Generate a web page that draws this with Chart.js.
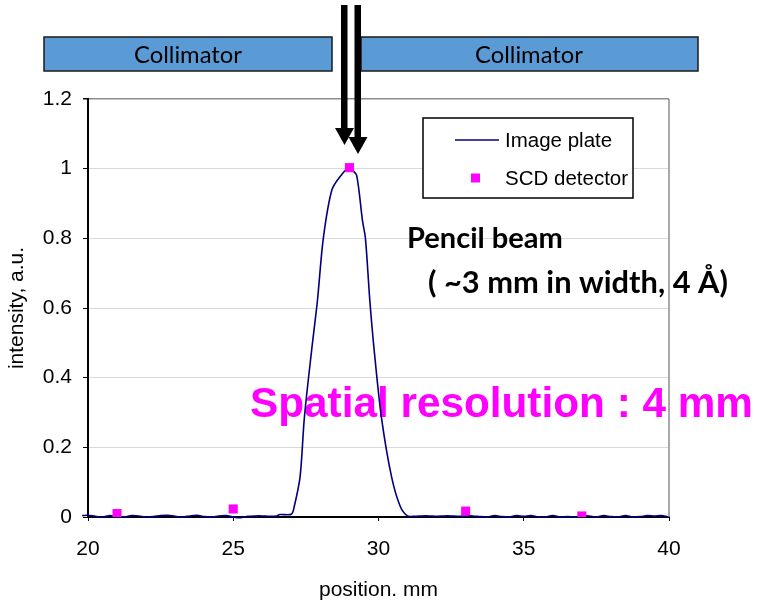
<!DOCTYPE html>
<html>
<head>
<meta charset="utf-8">
<script src="https://cdn.jsdelivr.net/npm/chart.js@4"></script>
<style>
  body { margin: 0; background: #fff; }
  #wrap { width: 757px; height: 603px; }
</style>
</head>
<body>
<div id="wrap"><canvas id="chart"></canvas></div>
<script>
// image plate profile
const plateX = [19.8, 20.0, 20.25, 20.5, 20.75, 21.0, 21.25, 21.5, 21.75, 22.0, 22.25, 22.5, 22.75,
  23.0, 23.25, 23.5, 23.75, 24.0, 24.25, 24.5, 24.75, 25.0, 25.25, 25.5, 25.75, 26.0, 26.25, 26.5,
  26.6, 27.0, 27.1, 27.3, 27.45, 27.7, 27.9, 28.1, 28.4, 28.75, 28.95, 29.1, 29.25, 29.45, 29.55,
  29.7, 29.85, 30.1, 30.45, 30.75, 31.0, 31.25, 31.5, 31.75, 32.0, 32.25, 32.5, 32.75, 33.0, 33.25,
  33.5, 33.75, 34.0, 34.25, 34.5, 34.75, 35.0, 35.25, 35.5, 35.75, 36.0, 36.25, 36.5, 36.75, 37.0,
  37.25, 37.5, 37.75, 38.0, 38.25, 38.5, 38.75, 39.0, 39.25, 39.5, 39.75, 40.0, 40.3];
const plateY = [0.004, 0.005, 0.002, 0.0, 0.004, 0.001, 0.0, 0.004, 0.003, 0.0, 0.001, 0.004, 0.005,
  0.002, 0.0, 0.003, 0.005, 0.001, 0.0, 0.003, 0.004, 0.0, -0.002, 0.002, 0.003, 0.003, 0.002, 0.003,
  0.007, 0.008, 0.03, 0.115, 0.287, 0.48, 0.623, 0.80, 0.94, 0.985, 1.0, 0.995, 0.98, 0.85, 0.80,
  0.623, 0.48, 0.287, 0.115, 0.03, 0.003, 0.002, 0.003, 0.003, 0.002, 0.003, 0.003, 0.002, 0.003, 0.003,
  0.001, 0.0, 0.004, 0.001, 0.0, 0.004, 0.002, 0.004, 0.0, 0.0, 0.004, 0.0, 0.001, 0.0, 0.003,
  0.003, 0.0, 0.004, 0.001, 0.0, 0.004, 0.0, 0.001, 0.004, 0.003, 0.004, 0.0, 0.0];

// SCD detector points
const scdX = [21, 25, 29, 33, 37];
const scdY = [0.01, 0.023, 1.003, 0.017, 0.003];

const seriesNames = ['Image plate', 'SCD detector'];

function fitSize(ctx, text, weight, family, width) {
  ctx.font = weight + ' 100px ' + family;
  return 100 * width / ctx.measureText(text).width;
}

const extras = {
  id: 'extras',
  beforeDatasetsDraw(chart) {
    const ctx = chart.ctx;
    ctx.save();
    ctx.fillStyle = '#000';
    ctx.textBaseline = 'alphabetic';
    ctx.textAlign = 'left';
    let s = fitSize(ctx, 'Pencil beam', 'bold', 'Lato', 156);
    ctx.font = 'bold ' + s + 'px Lato';
    ctx.fillText('Pencil beam', 407, 248);
    s = fitSize(ctx, '( ~3 mm in width, 4 Å)', 'bold', 'Lato', 300);
    ctx.font = 'bold ' + s + 'px Lato';
    ctx.fillText('( ~3 mm in width, 4 Å)', 428, 293);
    ctx.fillStyle = '#ff00ff';
    s = fitSize(ctx, 'Spatial resolution : 4 mm', 'bold', '"Liberation Sans"', 503);
    ctx.font = 'bold ' + s + 'px "Liberation Sans"';
    ctx.fillText('Spatial resolution : 4 mm', 250, 417);
    ctx.restore();
  },
  afterDraw(chart) {
    const ctx = chart.ctx;
    const a = chart.chartArea;
    ctx.save();
    // right frame
    ctx.strokeStyle = '#8c8c8c';
    ctx.lineWidth = 1.5;
    ctx.beginPath();
    ctx.moveTo(a.right, a.top);
    ctx.lineTo(a.right, a.bottom);
    ctx.stroke();

    // collimators
    ctx.fillStyle = '#5b9bd5';
    ctx.strokeStyle = '#1a1a1a';
    ctx.lineWidth = 1.5;
    ctx.fillRect(44, 37, 288, 34);
    ctx.strokeRect(44, 37, 288, 34);
    ctx.fillRect(361, 37, 337, 34);
    ctx.strokeRect(361, 37, 337, 34);
    ctx.fillStyle = '#000';
    ctx.textAlign = 'center';
    let s = fitSize(ctx, 'Collimator', 'normal', 'Lato', 108);
    ctx.font = s + 'px Lato';
    ctx.fillText('Collimator', 188, 63);
    ctx.fillText('Collimator', 529, 63);

    // beam arrows
    ctx.fillRect(341, 5, 6.5, 124);
    ctx.beginPath();
    ctx.moveTo(335, 128); ctx.lineTo(354, 128); ctx.lineTo(344.5, 145); ctx.closePath();
    ctx.fill();
    ctx.fillRect(354.5, 5, 6.5, 133);
    ctx.beginPath();
    ctx.moveTo(348.5, 137); ctx.lineTo(367.5, 137); ctx.lineTo(358, 154); ctx.closePath();
    ctx.fill();

    // legend
    ctx.fillStyle = '#fff';
    ctx.fillRect(423, 118, 210, 80);
    ctx.strokeStyle = '#000';
    ctx.lineWidth = 1.5;
    ctx.strokeRect(423, 118, 210, 80);
    ctx.strokeStyle = '#000080';
    ctx.lineWidth = 1.5;
    ctx.beginPath();
    ctx.moveTo(455, 140); ctx.lineTo(499, 140);
    ctx.stroke();
    ctx.fillStyle = '#ff00ff';
    ctx.fillRect(471, 173.5, 9, 9);
    ctx.fillStyle = '#000';
    ctx.textAlign = 'left';
    ctx.font = '20.5px "Liberation Sans"';
    ctx.fillText(seriesNames[0], 505, 147);
    ctx.fillText(seriesNames[1], 505, 185);
    ctx.restore();
  }
};

new Chart(document.getElementById('chart'), {
  type: 'scatter',
  data: {
    datasets: [{
      label: seriesNames[1],
      data: scdX.map((x, i) => ({x: x, y: scdY[i]})),
      pointStyle: 'rect',
      pointRadius: 6.4,
      pointBorderWidth: 0,
      backgroundColor: '#ff00ff',
      borderColor: '#ff00ff',
      order: 0
    }, {
      label: seriesNames[0],
      data: plateX.map((x, i) => ({x: x, y: plateY[i]})),
      showLine: true,
      borderColor: '#000080',
      borderWidth: 1.6,
      pointRadius: 0,
      tension: 0.3,
      clip: 12,
      order: 1
    }]
  },
  options: {
    responsive: true,
    maintainAspectRatio: false,
    animation: false,
    layout: { padding: { left: 0, right: 88, top: 99, bottom: 0 } },
    plugins: { legend: { display: false }, tooltip: { enabled: false } },
    scales: {
      x: {
        type: 'linear', min: 20, max: 40,
        afterFit: s => { s.height = 86; },
        ticks: { stepSize: 5, color: '#000', padding: 16, font: { family: '"Liberation Sans"', size: 21 } },
        grid: { drawOnChartArea: false, tickLength: 4, tickColor: '#000' },
        border: { color: '#000', width: 2 },
        title: { display: true, text: 'position. mm', color: '#000', padding: { top: 0, bottom: 0 },
          font: { family: '"Liberation Sans"', size: 21 } }
      },
      y: {
        min: 0, max: 1.2,
        afterFit: s => { s.width = 88; },
        ticks: {
          stepSize: 0.2, color: '#000', padding: 11, font: { family: '"Liberation Sans"', size: 21 },
          callback: v => String(Math.round(v * 10) / 10)
        },
        grid: {
          color: c => (c.tick && c.tick.value > 1.1) ? '#8c8c8c' : '#d9d9d9',
          lineWidth: c => (c.tick && c.tick.value > 1.1) ? 1.5 : 1,
          tickLength: 5, tickColor: '#000'
        },
        border: { color: '#000', width: 2 },
        title: { display: true, text: 'intensity, a.u.', color: '#000', padding: { top: 5, bottom: 0 },
          font: { family: '"Liberation Sans"', size: 21 } }
      }
    }
  },
  plugins: [extras]
});
</script>
</body>
</html>
